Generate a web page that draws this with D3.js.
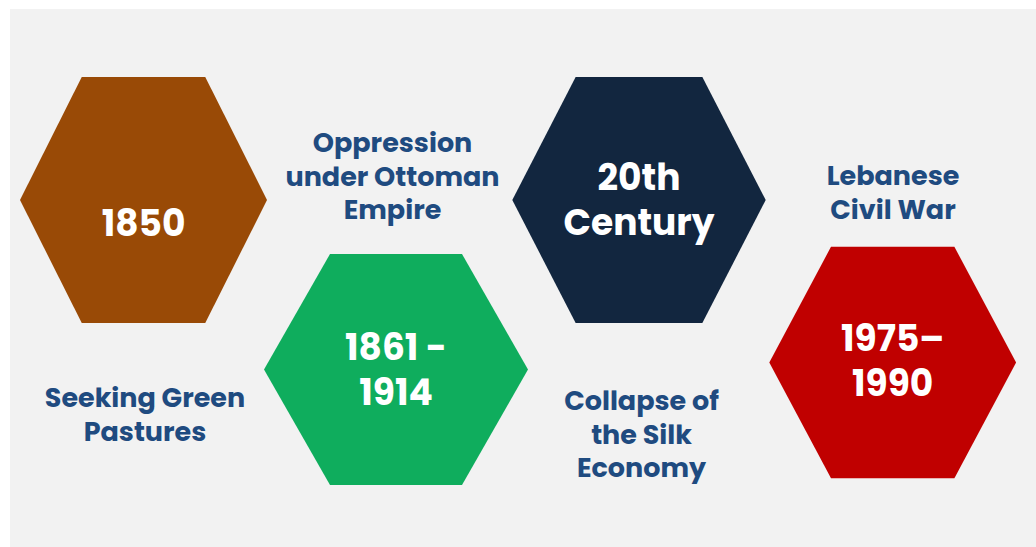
<!DOCTYPE html>
<html>
<head>
<meta charset="utf-8">
<script src="https://cdn.jsdelivr.net/npm/d3@7"></script>
<style>
  html, body { margin: 0; padding: 0; background: #ffffff; }
  svg { display: block; }
</style>
</head>
<body>
<svg id="chart" width="1036" height="547"></svg>
<script>
// ---- data ----
const periods = ["1850", "1861 -\n1914", "20th\nCentury", "1975–\n1990"];
const events = ["Seeking Green\nPastures", "Oppression\nunder Ottoman\nEmpire", "Collapse of\nthe Silk\nEconomy", "Lebanese\nCivil War"];
const colors = ["#994a06", "#0fad5d", "#12263f", "#c00000"];

// ---- layout ----
const W = 1036, H = 547;
const svg = d3.select("#chart");
svg.append("rect").attr("x", 10).attr("y", 9).attr("width", W - 10).attr("height", H - 9).attr("fill", "#f2f2f2");

const idx = d3.range(periods.length);
const cx = d3.scaleOrdinal().domain(idx).range([143.5, 396, 639, 892.7]);
const cy = d3.scaleOrdinal().domain(idx).range([200, 369.5, 200, 362.5]);
const hw = d3.scaleOrdinal().domain(idx).range([123.5, 132, 126.7, 123.4]);
const hh = d3.scaleOrdinal().domain(idx).range([123, 115.5, 123, 115.7]);
const firstBase = d3.scaleOrdinal().domain(idx).range([236, 360, 190, 351]);
const evX = d3.scaleOrdinal().domain(idx).range([145, 392.5, 641.5, 893]);
const evBase = d3.scaleOrdinal().domain(idx).range([407, 152, 410, 185]);

function hexPath(i) {
  const x = cx(i), y = cy(i), w = hw(i), h = hh(i);
  const pts = [[x - w, y], [x - w / 2, y - h], [x + w / 2, y - h], [x + w, y], [x + w / 2, y + h], [x - w / 2, y + h]];
  return d3.line()(pts) + "Z";
}

const font = "Poppins, Inter, 'Open Sans', sans-serif";

const g = svg.selectAll("g.item").data(idx).join("g").attr("class", "item");
g.append("path").attr("d", d => hexPath(d)).attr("fill", d => colors[d]);

// period labels inside hexagons
const hexFs = 36, hexLh = 45;
g.append("text")
  .attr("text-anchor", "middle")
  .attr("font-family", font)
  .attr("font-weight", 700)
  .attr("font-size", hexFs)
  .attr("fill", "#ffffff")
  .each(function (d) {
    const lines = periods[d].split("\n");
    d3.select(this).selectAll("tspan").data(lines).join("tspan")
      .attr("x", cx(d))
      .attr("y", (l, k) => firstBase(d) + k * hexLh)
      .text(l => l);
  });

// event labels
const evFs = 27, evLh = 33.5;
g.append("text")
  .attr("text-anchor", "middle")
  .attr("font-family", font)
  .attr("font-weight", 700)
  .attr("font-size", evFs)
  .attr("fill", "#1f4b80")
  .each(function (d) {
    const lines = events[d].split("\n");
    d3.select(this).selectAll("tspan").data(lines).join("tspan")
      .attr("x", evX(d))
      .attr("y", (l, k) => evBase(d) + k * evLh)
      .text(l => l);
  });
</script>
</body>
</html>
